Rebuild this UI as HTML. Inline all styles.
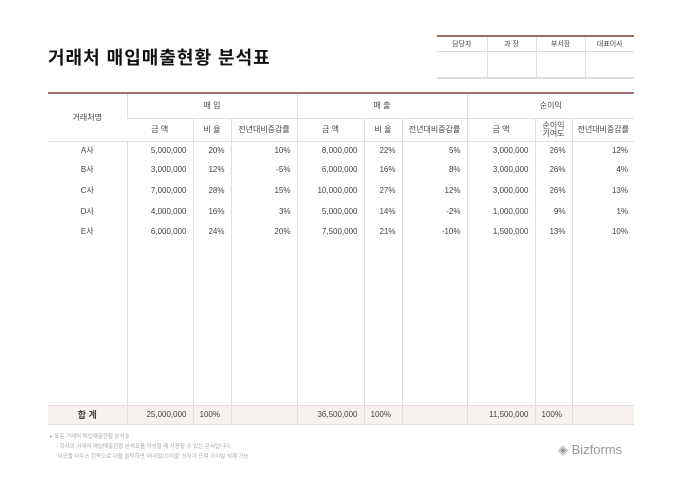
<!DOCTYPE html>
<html><head><meta charset="utf-8"><style>
body{margin:0;width:680px;height:481px;background:#fff;font-family:"Liberation Sans","Noto Sans CJK KR",sans-serif;position:relative;overflow:hidden;color:#333}
.a{position:absolute}
table{border-collapse:collapse;position:absolute;table-layout:fixed}
td{border-left:1px solid #e2dede;padding:0;font-size:8px;color:#444;white-space:nowrap}
td:first-child{border-left:none}
.r{text-align:right;padding-right:6px}
.c{text-align:center}
.l{text-align:left;padding-left:6px}
</style></head><body>
<div class="a" style="left:48px;top:44px;font-size:18px;font-weight:bold;color:#111;letter-spacing:1px">거래처 매입매출현황 분석표</div>

<table style="left:437px;top:35px;width:197px;border-top:2px solid #9b6a6a;border-bottom:2px solid #ddd">
<colgroup><col style="width:50px"><col style="width:49px"><col style="width:49px"><col style="width:49px"></colgroup>
<tr style="height:15px;border-bottom:1px solid #e2dede"><td class="c" style="font-size:7px">담당자</td><td class="c" style="font-size:7px">과 장</td><td class="c" style="font-size:7px">부서장</td><td class="c" style="font-size:7px">대표이사</td></tr>
<tr style="height:27px"><td></td><td></td><td></td><td></td></tr>
</table>

<table style="left:48px;top:92px;width:586px;border-top:2px solid #a56f6f">
<colgroup><col style="width:79px"><col style="width:66px"><col style="width:38px"><col style="width:66px"><col style="width:67px"><col style="width:38px"><col style="width:65px"><col style="width:68px"><col style="width:37px"><col style="width:62px"></colgroup>
<tr style="height:25px;border-bottom:1px solid #e2dede"><td rowspan="2" class="c">거래처명</td><td colspan="3" class="c">매 입</td><td colspan="3" class="c">매 출</td><td colspan="3" class="c">순이익</td></tr>
<tr style="height:23px;border-bottom:1px solid #e2dede"><td class="c">금 액</td><td class="c">비 율</td><td class="c">전년대비증감률</td><td class="c">금 액</td><td class="c">비 율</td><td class="c">전년대비증감률</td><td class="c">금 액</td><td class="c" style="line-height:8px">순이익<br>기여도</td><td class="c">전년대비증감률</td></tr>
<tr style="height:18px"><td class="c">A사</td><td class="r">5,000,000</td><td class="r">20%</td><td class="r">10%</td><td class="r">8,000,000</td><td class="r">22%</td><td class="r">5%</td><td class="r">3,000,000</td><td class="r">26%</td><td class="r">12%</td></tr>
<tr style="height:21px"><td class="c">B사</td><td class="r">3,000,000</td><td class="r">12%</td><td class="r">-5%</td><td class="r">6,000,000</td><td class="r">16%</td><td class="r">8%</td><td class="r">3,000,000</td><td class="r">26%</td><td class="r">4%</td></tr>
<tr style="height:21px"><td class="c">C사</td><td class="r">7,000,000</td><td class="r">28%</td><td class="r">15%</td><td class="r">10,000,000</td><td class="r">27%</td><td class="r">12%</td><td class="r">3,000,000</td><td class="r">26%</td><td class="r">13%</td></tr>
<tr style="height:20px"><td class="c">D사</td><td class="r">4,000,000</td><td class="r">16%</td><td class="r">3%</td><td class="r">5,000,000</td><td class="r">14%</td><td class="r">-2%</td><td class="r">1,000,000</td><td class="r">9%</td><td class="r">1%</td></tr>
<tr style="height:21px"><td class="c">E사</td><td class="r">6,000,000</td><td class="r">24%</td><td class="r">20%</td><td class="r">7,500,000</td><td class="r">21%</td><td class="r">-10%</td><td class="r">1,500,000</td><td class="r">13%</td><td class="r">10%</td></tr>
<tr style="height:163px"><td></td><td></td><td></td><td></td><td></td><td></td><td></td><td></td><td></td><td></td></tr>
<tr style="height:19px;background:#f7f1ef;border-top:1px solid #e6dcdc;border-bottom:1px solid #ddd"><td class="c" style="font-size:9px;font-weight:bold">합 계</td><td class="r">25,000,000</td><td class="l">100%</td><td></td><td class="r">36,500,000</td><td class="l">100%</td><td></td><td class="r">11,500,000</td><td class="l">100%</td><td></td></tr>
</table>

<div class="a" style="left:50px;top:432px;font-size:5.5px;color:#aaa;line-height:10px">▸ 표준 거래처 매입매출현황 분석표<br>&nbsp;&nbsp;&nbsp;&nbsp;- 회사의 거래처 매입매출현황 분석표를 작성할 때 사용할 수 있는 문서입니다.<br>&nbsp;&nbsp;&nbsp;&nbsp;&nbsp;이곳을 마우스 왼쪽으로 더블 클릭하면 '머리말/꼬리말' 상자가 뜨며 꼬리말 삭제 가능</div>
<div class="a" style="left:558px;top:442px;font-size:13px;color:#999">◈ Bizforms</div>
</body></html>
